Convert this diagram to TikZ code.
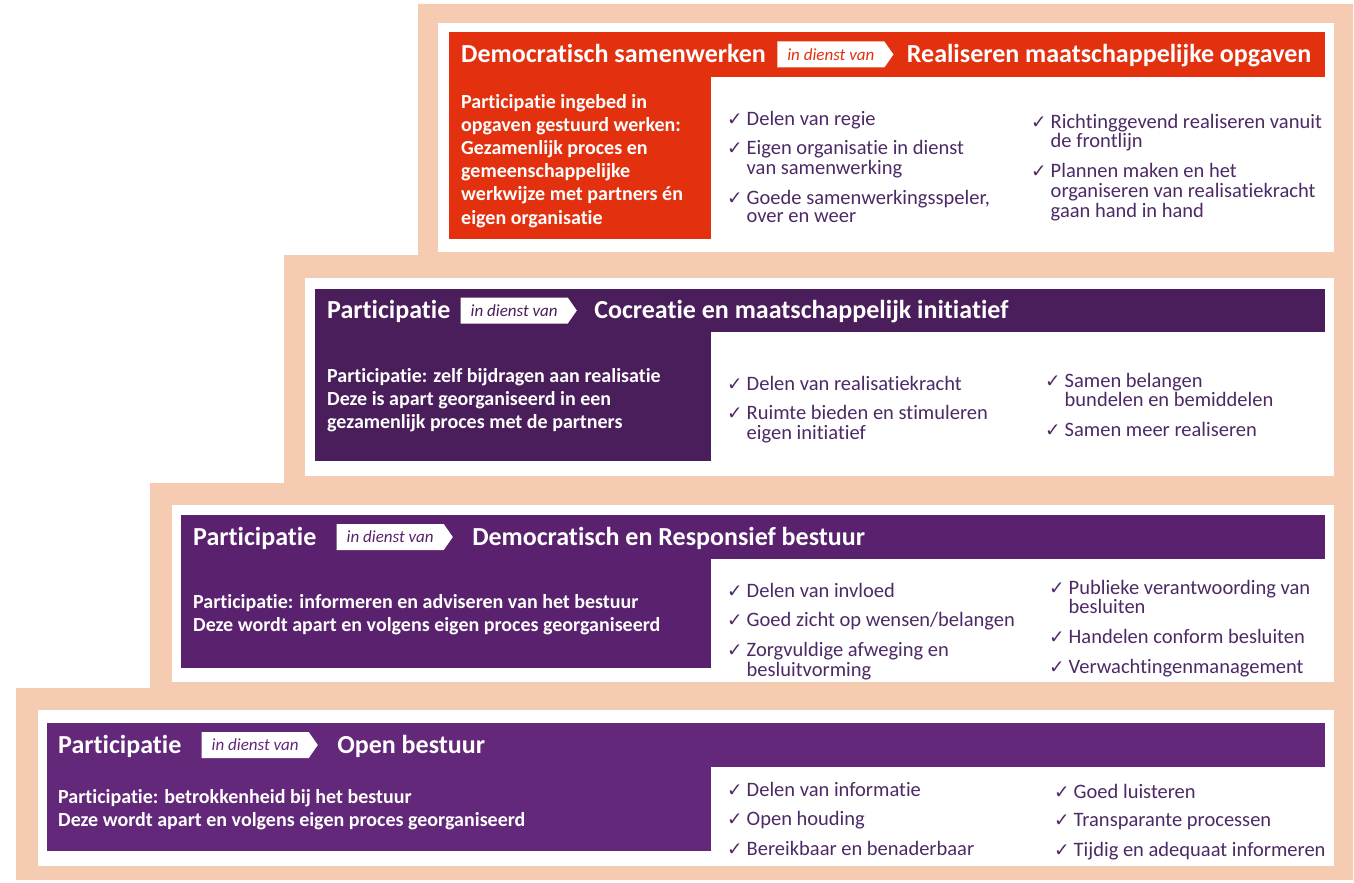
\documentclass[tikz,border=0pt]{standalone}
\usepackage{fontspec}
\setmainfont{Carlito}[Ligatures={NoCommon,NoContextual}]
\newfontfamily\checkfont{DejaVu Sans}
\usetikzlibrary{positioning}
\usetikzlibrary{shapes.symbols}
\definecolor{peach}{HTML}{F5CCB2}
\definecolor{redbar}{HTML}{E3310F}
\definecolor{purpleA}{HTML}{4A1E5B}
\definecolor{purpleB}{HTML}{5A226E}
\definecolor{purpleC}{HTML}{632879}
\definecolor{listtext}{HTML}{4D2A66}
\newcommand{\chk}{{\checkfont\fontsize{18.5}{18}\selectfont ✓}}
\newcommand{\itemgap}{\\[10pt]}
\tikzstyle{panel} = [fill=white]
\tikzstyle{title} = [font=\fontsize{26}{30}\selectfont\bfseries, text=white, inner sep=0pt, anchor=west, text height=16.7pt, text depth=0pt]
\tikzstyle{tag} = [signal, signal to=east, signal pointer angle=110, fill=white, font=\fontsize{17}{20}\selectfont\itshape, inner xsep=10pt, inner ysep=0pt, minimum height=26pt]
\tikzstyle{body} = [font=\fontsize{20}{23.2}\selectfont\bfseries, text=white, inner sep=0pt, anchor=base west]
\tikzstyle{checks} = [font=\fontsize{20.5}{18.5}\selectfont, text=listtext, inner sep=0pt, anchor=base west]

\begin{document}
\begin{tikzpicture}[x=1pt, y=-1pt]

		\useasboundingbox (0,0) rectangle (1354,883);

		% staircase background
		\fill [peach] (418,4) -| (1353,880) -| (16,688) -| (150,483) -| (284,255) -| (418,4) -- cycle;

		% level 1
		\fill [panel] (438,23) rectangle (1334,252);
		\fill [redbar] (449,32) rectangle (1325,77);
		\fill [redbar] (449,77) rectangle (711,239);

		\node (p1title) [title] at (461,54.5) {Democratisch samenwerken};
		\node (p1tag) [tag, text=redbar, right=11pt of p1title] {in dienst van};
		\node (p1goal) [title, right=13pt of p1tag] {Realiseren maatschappelijke opgaven};

		\node (p1body) [body] at (461,108) {\begin{tabular}[t]{@{}l@{}}
			Participatie ingebed in\\
			opgaven gestuurd werken:\\
			Gezamenlijk proces en\\
			gemeenschappelijke\\
			werkwijze met partners én\\
			eigen organisatie
		\end{tabular}};

		\node (p1left) [checks] at (727,125) {\begin{tabular}[t]{@{}l@{\hspace{4pt}}l@{}}
			\chk & Delen van regie\itemgap
			\chk & Eigen organisatie in dienst\\
			     & van samenwerking\itemgap
			\chk & Goede samenwerkingsspeler,\\
			     & over en weer
		\end{tabular}};

		\node (p1right) [checks] at (1031,128) {\begin{tabular}[t]{@{}l@{\hspace{4pt}}l@{}}
			\chk & Richtinggevend realiseren vanuit\\
			     & de frontlijn\itemgap
			\chk & Plannen maken en het\\
			     & organiseren van realisatiekracht\\
			     & gaan hand in hand
		\end{tabular}};

		% level 2
		\fill [panel] (305,278) rectangle (1334,476);
		\fill [purpleA] (315,289) rectangle (1325,332);
		\fill [purpleA] (315,332) rectangle (711,461);

		\node (p2title) [title] at (327,310.5) {Participatie};
		\node (p2tag) [tag, text=purpleA, right=10pt of p2title] {in dienst van};
		\node (p2goal) [title, right=17pt of p2tag] {Cocreatie en maatschappelijk initiatief};

		\node (p2body) [body] at (327,382) {\begin{tabular}[t]{@{}l@{}}
			Participatie: zelf bijdragen aan realisatie\\
			Deze is apart georganiseerd in een\\
			gezamenlijk proces met de partners
		\end{tabular}};

		\node (p2left) [checks] at (727,390) {\begin{tabular}[t]{@{}l@{\hspace{4pt}}l@{}}
			\chk & Delen van realisatiekracht\itemgap
			\chk & Ruimte bieden en stimuleren\\
			     & eigen initiatief
		\end{tabular}};

		\node (p2right) [checks] at (1045,387) {\begin{tabular}[t]{@{}l@{\hspace{4pt}}l@{}}
			\chk & Samen belangen\\
			     & bundelen en bemiddelen\itemgap
			\chk & Samen meer realiseren
		\end{tabular}};

		% level 3
		\fill [panel] (172,505) rectangle (1334,682);
		\fill [purpleB] (181,515) rectangle (1325,559);
		\fill [purpleB] (181,559) rectangle (711,668);

		\node (p3title) [title] at (193,537) {Participatie};
		\node (p3tag) [tag, text=purpleB, right=20pt of p3title] {in dienst van};
		\node (p3goal) [title, right=19pt of p3tag] {Democratisch en Responsief bestuur};

		\node (p3body) [body] at (193,608) {\begin{tabular}[t]{@{}l@{}}
			Participatie: informeren en adviseren van het bestuur\\
			Deze wordt apart en volgens eigen proces georganiseerd
		\end{tabular}};

		\node (p3left) [checks] at (727,597) {\begin{tabular}[t]{@{}l@{\hspace{4pt}}l@{}}
			\chk & Delen van invloed\itemgap
			\chk & Goed zicht op wensen/belangen\itemgap
			\chk & Zorgvuldige afweging en\\
			     & besluitvorming
		\end{tabular}};

		\node (p3right) [checks] at (1049,594) {\begin{tabular}[t]{@{}l@{\hspace{4pt}}l@{}}
			\chk & Publieke verantwoording van\\
			     & besluiten\itemgap
			\chk & Handelen conform besluiten\itemgap
			\chk & Verwachtingenmanagement
		\end{tabular}};

		% level 4
		\fill [panel] (38,710) rectangle (1334,866);
		\fill [purpleC] (47,723) rectangle (1325,767);
		\fill [purpleC] (47,767) rectangle (711,851);

		\node (p4title) [title] at (58,745) {Participatie};
		\node (p4tag) [tag, text=purpleC, right=20pt of p4title] {in dienst van};
		\node (p4goal) [title, right=19pt of p4tag] {Open bestuur};

		\node (p4body) [body] at (58,803) {\begin{tabular}[t]{@{}l@{}}
			Participatie: betrokkenheid bij het bestuur\\
			Deze wordt apart en volgens eigen proces georganiseerd
		\end{tabular}};

		\node (p4left) [checks] at (727,796) {\begin{tabular}[t]{@{}l@{\hspace{4pt}}l@{}}
			\chk & Delen van informatie\itemgap
			\chk & Open houding\itemgap
			\chk & Bereikbaar en benaderbaar
		\end{tabular}};

		\node (p4right) [checks] at (1054,798) {\begin{tabular}[t]{@{}l@{\hspace{4pt}}l@{}}
			\chk & Goed luisteren\itemgap
			\chk & Transparante processen\itemgap
			\chk & Tijdig en adequaat informeren
		\end{tabular}};

	\end{tikzpicture}
\end{document}
